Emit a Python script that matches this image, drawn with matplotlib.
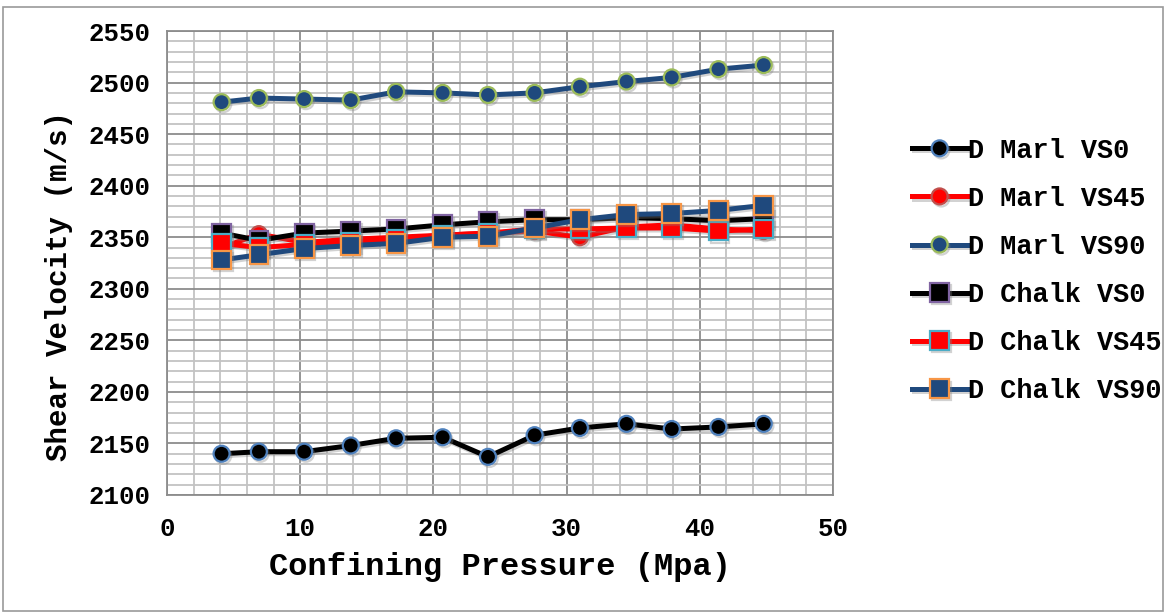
"""Shear velocity of marl and chalk samples against confining pressure."""

from matplotlib import pyplot as plt
from matplotlib.patches import Rectangle
from matplotlib.ticker import MultipleLocator
import matplotlib.patheffects as pe

PRESSURE = [4.1, 6.9, 10.3, 13.8, 17.2, 20.7, 24.1, 27.6, 31.0, 34.5, 37.9, 41.4, 44.8]

MARL_VS0 = [2140, 2142, 2142, 2148, 2155, 2156, 2137, 2158, 2165, 2169, 2164, 2166, 2169]
MARL_VS45 = [2340, 2353, 2345, 2348, 2350, 2352, 2354, 2356, 2350, 2360, 2362, 2358, 2356]
MARL_VS90 = [2481, 2485, 2484, 2483, 2491, 2490, 2488, 2490, 2496, 2501, 2505, 2513, 2517]
CHALK_VS0 = [2354, 2347, 2354, 2356, 2358, 2362, 2365, 2367, 2367, 2369, 2368, 2366, 2368]
CHALK_VS45 = [2344, 2340, 2343, 2345, 2348, 2352, 2354, 2358, 2358, 2359, 2359, 2356, 2358]
CHALK_VS90 = [2328, 2333, 2339, 2342, 2344, 2350, 2351, 2359, 2367, 2372, 2373, 2376, 2381]

LABELS = ["D Marl VS0", "D Marl VS45", "D Marl VS90",
          "D Chalk VS0", "D Chalk VS45", "D Chalk VS90"]

# (line colour, marker, marker face, marker edge)
STYLES = [
    ("#000000", "o", "#000000", "#4F81BD"),
    ("#FF0000", "o", "#FF0000", "#C0504D"),
    ("#1F497D", "o", "#1F497D", "#9BBB59"),
    ("#000000", "s", "#000000", "#8064A2"),
    ("#FF0000", "s", "#FF0000", "#4BACC6"),
    ("#1F497D", "s", "#1F497D", "#F79646"),
]


def main():
    plt.rcParams["font.family"] = ["Liberation Mono", "DejaVu Sans Mono"]
    plt.rcParams["font.weight"] = "bold"

    fig = plt.figure(figsize=(11.66, 6.13), dpi=100)
    fig.patches.append(Rectangle((0.003, 0.003), 0.994, 0.985, transform=fig.transFigure,
                                 fill=False, edgecolor="#9a9a9a", linewidth=1.2))
    ax = fig.add_axes([0.1432, 0.1925, 0.5712, 0.7569])

    series = [MARL_VS0, MARL_VS45, MARL_VS90, CHALK_VS0, CHALK_VS45, CHALK_VS90]
    shadow = [pe.SimpleLineShadow(offset=(1.2, -1.5), shadow_color="gray", alpha=0.35),
              pe.Normal()]
    for values, label, (color, marker, face, edge) in zip(series, LABELS, STYLES):
        size = 11.5 if marker == "o" else 13.5
        ax.plot(PRESSURE, values, color=color, linewidth=3.6, marker=marker,
                markersize=size, markerfacecolor=face, markeredgecolor=edge,
                markeredgewidth=1.6, label=label, path_effects=shadow, zorder=3)

    ax.set_xlim(0, 50)
    ax.set_ylim(2100, 2550)
    ax.xaxis.set_major_locator(MultipleLocator(10))
    ax.xaxis.set_minor_locator(MultipleLocator(2))
    ax.yaxis.set_major_locator(MultipleLocator(50))
    ax.yaxis.set_minor_locator(MultipleLocator(10))
    ax.grid(which="major", color="#8c8c8c", linewidth=1.3)
    ax.grid(which="minor", color="#c3c3c3", linewidth=1.3)
    ax.set_axisbelow(True)
    for spine in ax.spines.values():
        spine.set_color("#8c8c8c")
        spine.set_linewidth(1.3)
    ax.tick_params(which="both", length=0, labelsize=18.5)
    ax.tick_params(axis="y", pad=12)
    ax.tick_params(axis="x", pad=16)

    ax.set_xlabel("Confining Pressure (Mpa)", fontsize=23, fontweight="bold", labelpad=8)
    ax.set_ylabel("Shear Velocity (m/s)", fontsize=21, fontweight="bold")
    ax.yaxis.set_label_coords(-0.141, 0.45)

    fig.legend(loc="center left", bbox_to_anchor=(912 / 1166, 1 - 271 / 613),
               frameon=False, fontsize=19.4, handlelength=2.05, handletextpad=0.03,
               labelspacing=0.82, borderpad=0, borderaxespad=0)

    fig.savefig("out.png", dpi=100)
    plt.close(fig)


if __name__ == "__main__":
    main()
